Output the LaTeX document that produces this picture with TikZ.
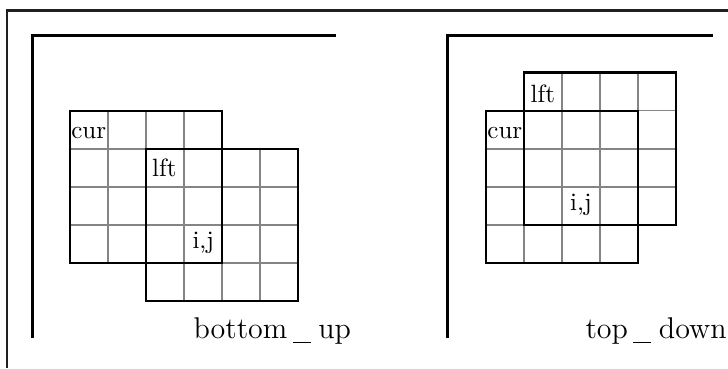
\documentclass[tikz,border=0pt]{standalone}
\usepackage{tikz}
\definecolor{framecol}{HTML}{202020}
\definecolor{cellcol}{HTML}{858585}
\newcommand\cellsz{38.1}
% gray inner lines of a 4x4 block with top-left corner (#1,#2)
\newcommand\innerlines[2]{%
  \foreach \k in {1,2,3}{%
    \draw[cellline] ({#1+\k*\cellsz},#2) -- ++(0,{4*\cellsz});
    \draw[cellline] (#1,{#2+\k*\cellsz}) -- ++({4*\cellsz},0);
  }}
\newcommand\blockedge[3]{%
  \draw[#3] (#1,#2) rectangle ++({4*\cellsz},{4*\cellsz});}
\newcommand\uscore{\kern2.2pt\rule[-2pt]{7.2pt}{0.55pt}\kern3pt}
\tikzset{
  frameline/.style={draw=framecol,line width=1pt},
  axisline/.style={draw=black,line width=1.2pt},
  cellline/.style={draw=cellcol,line width=0.6pt},
  curedge/.style={draw=black,line width=0.65pt},
  lftedge/.style={draw=black,line width=0.9pt},
  lbl/.style={inner sep=0pt,anchor=base,font=\fontsize{10}{12}\selectfont},
  title/.style={inner sep=0pt,anchor=base west,font=\fontsize{12}{14}\selectfont}
}
\begin{document}
\begin{tikzpicture}[x=0.4pt,y=-0.4pt]
\useasboundingbox (0,0) rectangle (728,368);
% outer frame (open to the right and below)
\coordinate (fb) at (7,368);
\coordinate (fc) at (7,10.7);
\coordinate (fr) at (728,10.7);
\draw[frameline] (fb) -- (fc) -- (fr);

% ---------- bottom_up ----------
\coordinate (ab) at (32.5,338);
\coordinate (ac) at (32.5,35.5);
\coordinate (ar) at (336,35.5);
\draw[axisline] (ab) -- (ac) -- (ar);
\node[lbl] (curA) at (88.8,138.3) {cur};
\node[lbl] (lftA) at (164.4,176.7) {lft};
\node[lbl] (ijA)  at (203.3,248) {i,j};
\innerlines{69.7}{110.7}
\innerlines{145.9}{148.8}
\blockedge{69.7}{110.7}{curedge}
\blockedge{145.9}{148.8}{lftedge}
\node[title] (bu) at (193,338) {bottom\uscore up};

% ---------- top_down ----------
\coordinate (bb) at (447.5,338);
\coordinate (bc) at (447.5,35.5);
\coordinate (br) at (713,35.5);
\draw[axisline] (bb) -- (bc) -- (br);
\node[lbl] (curB) at (504.8,138.7) {cur};
\node[lbl] (lftB) at (542.9,102.7) {lft};
\node[lbl] (ijB)  at (580.9,210.7) {i,j};
\innerlines{485.7}{110.7}
\innerlines{523.8}{72.6}
\blockedge{485.7}{110.7}{curedge}
\blockedge{523.8}{72.6}{lftedge}
\node[title] (td) at (585,338) {top\uscore down};
\end{tikzpicture}
\end{document}
